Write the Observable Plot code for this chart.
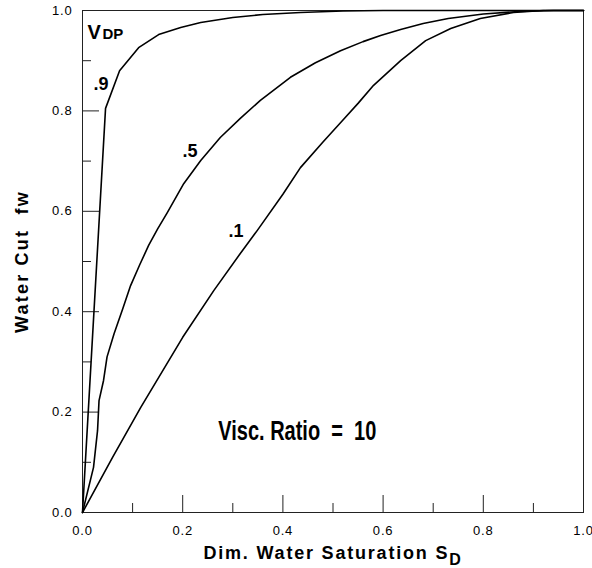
<!DOCTYPE html>
<html>
<head>
<meta charset="utf-8">
<script src="https://cdn.jsdelivr.net/npm/d3@7"></script>
<script src="https://cdn.jsdelivr.net/npm/@observablehq/plot@0.6"></script>
<style>
  html, body { margin: 0; padding: 0; background: #fff; }
  #chart svg { display: block; }
  [aria-label="x-axis tick label"] text, [aria-label="y-axis tick label"] text { letter-spacing: 0.8px; }
</style>
</head>
<body>
<div id="chart"></div>
<script>
// ---- data ----
const sd9 = [0, 0.046, 0.074, 0.112, 0.152, 0.196, 0.236, 0.3, 0.36, 0.435, 0.52, 0.6, 0.7, 0.8, 0.9, 1.0];
const fw9 = [0, 0.805, 0.88, 0.926, 0.952, 0.966, 0.976, 0.986, 0.992, 0.996, 0.999, 1.0, 1.0, 1.0, 1.0, 1.0];

const sd5 = [0, 0.022, 0.030, 0.033, 0.042, 0.049, 0.063, 0.08, 0.096, 0.114, 0.132, 0.15, 0.169, 0.202, 0.236, 0.275, 0.315, 0.355, 0.415, 0.465, 0.515, 0.56, 0.595, 0.635, 0.68, 0.73, 0.8, 0.87, 0.94, 1.0];
const fw5 = [0, 0.09, 0.163, 0.223, 0.263, 0.31, 0.356, 0.405, 0.452, 0.493, 0.532, 0.565, 0.597, 0.655, 0.701, 0.747, 0.785, 0.821, 0.867, 0.896, 0.92, 0.938, 0.95, 0.962, 0.974, 0.984, 0.993, 0.998, 1.0, 1.0];

const sd1 = [0, 0.06, 0.116, 0.2, 0.262, 0.315, 0.349, 0.4, 0.435, 0.48, 0.519, 0.55, 0.581, 0.635, 0.685, 0.735, 0.794, 0.86, 0.92, 1.0];
const fw1 = [0, 0.11, 0.209, 0.349, 0.442, 0.516, 0.562, 0.634, 0.687, 0.738, 0.781, 0.815, 0.851, 0.9, 0.94, 0.964, 0.984, 0.996, 1.0, 1.0];

const majorTicks = [0, 0.2, 0.4, 0.6, 0.8, 1.0];
const minorTicks = [0.1, 0.3, 0.5, 0.7, 0.9];

const curveLabels = [".9", ".5", ".1"];
const curveLabelX = [0.022, 0.1996, 0.2914];
const curveLabelY = [0.8426, 0.7072, 0.5498];

const xTitle = "Dim. Water Saturation S";
const xTitleSub = "D";
const yTitle = "Water Cut\u00a0\u00a0fw";
const vdpMain = "V";
const vdpSub = "DP";
const noteText = "Visc. Ratio\u00a0\u00a0=\u00a0\u00a010";
const noteX = 0.271, noteY = 0.1454;
const vdpX = 0.01, vdpSubX = 0.04, vdpY = 0.9442;

// ---- layout ----
const W = 592, H = 568;
const mL = 82, mR = 9, mT = 10, mB = 56;
const plotW = W - mL - mR, plotH = H - mT - mB;
const majorLen = 17, minorLen = 9;

const toRows = (xs, ys) => xs.map((x, i) => ({x, y: ys[i]}));
const labelRows = curveLabels.map((t, i) => ({t, x: curveLabelX[i], y: curveLabelY[i]}));

const lineStyle = {x: "x", y: "y", stroke: "#000", strokeWidth: 1.6, curve: "linear"};

const chart = Plot.plot({
  width: W, height: H,
  marginLeft: mL, marginRight: mR, marginTop: mT, marginBottom: mB,
  style: {fontFamily: "Arial, 'Liberation Sans', Helvetica, sans-serif", background: "#fff", color: "#000"},
  x: {domain: [0, 1]},
  y: {domain: [0, 1]},
  marks: [
    Plot.frame({stroke: "#222", strokeWidth: 1}),
    Plot.ruleX(majorTicks, {x: d => d, insetTop: plotH - majorLen, stroke: "#222"}),
    Plot.ruleX(minorTicks, {x: d => d, insetTop: plotH - minorLen, stroke: "#222"}),
    Plot.ruleY(majorTicks, {y: d => d, insetRight: plotW - majorLen, stroke: "#222"}),
    Plot.ruleY(minorTicks, {y: d => d, insetRight: plotW - minorLen, stroke: "#222"}),
    Plot.axisX(majorTicks, {tickSize: 0, tickPadding: 13, tickFormat: ".1f", fontSize: 13, label: null}),
    Plot.axisY(majorTicks, {tickSize: 0, tickPadding: 10, tickFormat: ".1f", fontSize: 13, label: null}),
    Plot.line(toRows(sd1, fw1), lineStyle),
    Plot.line(toRows(sd5, fw5), lineStyle),
    Plot.line(toRows(sd9, fw9), lineStyle),
    Plot.text(labelRows, {x: "x", y: "y", text: "t", textAnchor: "start", lineAnchor: "bottom", fontSize: 18, fontWeight: "bold", fill: "#000"}),
    Plot.text([vdpMain], {x: () => vdpX, y: () => vdpY, text: d => d, textAnchor: "start", lineAnchor: "bottom", fontSize: 20, fontWeight: "bold", fill: "#000"}),
    Plot.text([vdpSub], {x: () => vdpSubX, y: () => vdpY, text: d => d, textAnchor: "start", lineAnchor: "bottom", fontSize: 15, fontWeight: "bold", fill: "#000", style: "letter-spacing:1.5px"}),
    Plot.text([noteText], {x: () => noteX, y: () => noteY, text: d => d, textAnchor: "start", lineAnchor: "bottom", fontSize: 27, fontWeight: "bold", fill: "#000"}),
    Plot.text([xTitle], {frameAnchor: "bottom", dy: 46, text: d => d, textAnchor: "middle", lineAnchor: "bottom", fontSize: 18, fontWeight: "bold", fill: "#000"}),
    Plot.text([yTitle], {frameAnchor: "left", dx: -55, rotate: -90, text: d => d, textAnchor: "middle", lineAnchor: "bottom", fontSize: 18, fontWeight: "bold", fill: "#000"})
  ]
});

document.getElementById("chart").appendChild(chart);

// post-process text styling
const svg = d3.select(chart);
svg.selectAll("text").each(function () {
  const t = this.textContent;
  if (t === xTitle) {
    this.style.letterSpacing = "1.8px";
    d3.select(this).append("tspan").attr("dy", "6").attr("font-size", 16).text(xTitleSub);
  } else if (t === yTitle) {
    this.style.letterSpacing = "2.2px";
  } else if (t === noteText) {
    this.setAttribute("textLength", 158);
    this.setAttribute("lengthAdjust", "spacingAndGlyphs");
  }
});
</script>
</body>
</html>
